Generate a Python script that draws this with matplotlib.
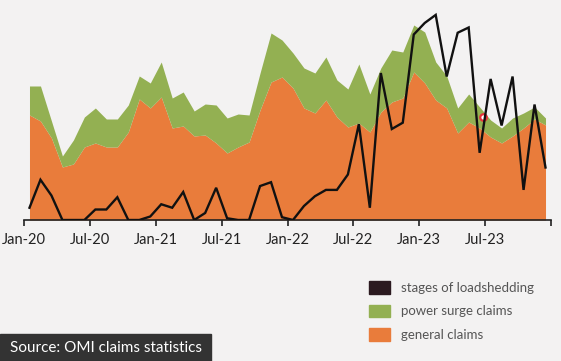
import numpy as np
import matplotlib
matplotlib.use("Agg")
import matplotlib.pyplot as plt
from matplotlib.patches import Patch

# monthly values, Jan-20 .. Dec-23
general_claims = [105, 99, 82, 53, 56, 73, 77, 73, 73, 88, 121, 112,
                  123, 92, 94, 84, 85, 77, 67, 73, 78, 110, 138, 143,
                  132, 112, 107, 120, 103, 93, 97, 88, 108, 118, 122, 148,
                  137, 120, 112, 87, 98, 92, 83, 77, 84, 92, 101, 95]
power_surge_claims = [29, 35, 17, 11, 24, 30, 35, 28, 28, 27, 23, 25,
                      35, 30, 34, 25, 31, 38, 35, 33, 27, 37, 49, 37,
                      35, 40, 40, 43, 37, 38, 59, 38, 44, 52, 46, 47,
                      51, 38, 32, 25, 28, 21, 17, 15, 18, 15, 12, 7]
loadshedding_stage = [0.35, 1.15, 0.7, 0, 0, 0, 0.3, 0.3, 0.65, 0, 0, 0.1,
                      0.45, 0.35, 0.8, 0, 0.2, 0.92, 0.05, 0, 0, 0.97, 1.08, 0.08,
                      0, 0.4, 0.68, 0.86, 0.86, 1.3, 2.74, 0.35, 4.2, 2.6, 2.78, 5.3,
                      5.63, 5.86, 4.1, 5.35, 5.5, 1.92, 4.03, 2.7, 4.1, 0.86, 3.3, 1.5]
tick_labels = ["Jan-20", "Jul-20", "Jan-21", "Jul-21", "Jan-22", "Jul-22", "Jan-23", "Jul-23", ""]

bg = "#f3f2f2"
orange = "#e97c3b"
green = "#93b052"

months = np.arange(len(general_claims)) + 0.5
general = np.array(general_claims)
total = general + np.array(power_surge_claims)

fig = plt.figure(figsize=(5.61, 3.61), dpi=100, facecolor=bg)
ax = fig.add_axes([24/561, 141/361, 527/561, 210/361])
ax.set_facecolor(bg)

ax.fill_between(months, 0, general, color=orange, lw=0)
ax.fill_between(months, general, total, color=green, lw=0)
ax.set_xlim(0, 48)
ax.set_ylim(0, 210)

for s in ["top", "right", "left"]:
    ax.spines[s].set_visible(False)
ax.spines["bottom"].set_color("#222222")
ax.spines["bottom"].set_linewidth(1.2)
ax.set_yticks([])
ax.set_xticks(np.arange(0, 49, 6))
ax.set_xticklabels(tick_labels, family="Lato", fontsize=10.5, color="#222222")
ax.tick_params(axis="x", length=4, width=1.2, color="#222222", pad=5)

ax2 = ax.twinx()
ax2.plot(months, loadshedding_stage, color="#111111", lw=1.7, solid_joinstyle="miter")
ax2.set_ylim(0, 6)
ax2.axis("off")

# small red highlight ring sitting on the surge band
hx = 41.8
ax.scatter([hx], [np.interp(hx, months, total) - 6], s=22, facecolor="white",
           edgecolor="#e8323a", linewidth=1.6, zorder=5)

handles = [Patch(color="#2b1a20"), Patch(color=green), Patch(color=orange)]
labels = ["stages of loadshedding", "power surge claims", "general claims"]
fig.legend(handles, labels, loc="upper left", bbox_to_anchor=(364/561, 1 - 276/361),
           frameon=False, prop={"family": "Lato", "size": 9.5}, labelcolor="#555555",
           handlelength=1.6, handleheight=1.05, labelspacing=0.83, handletextpad=0.83,
           borderaxespad=0)

fig.patches.append(plt.Rectangle((0, 0), 211/561, 27/361, transform=fig.transFigure,
                                 color="#333333", zorder=0))
fig.text(10/561, 13.5/361, "Source: OMI claims statistics", color="white",
         family="Lato", fontsize=11, va="center", ha="left")

fig.savefig("out.png", dpi=100, facecolor=bg)
